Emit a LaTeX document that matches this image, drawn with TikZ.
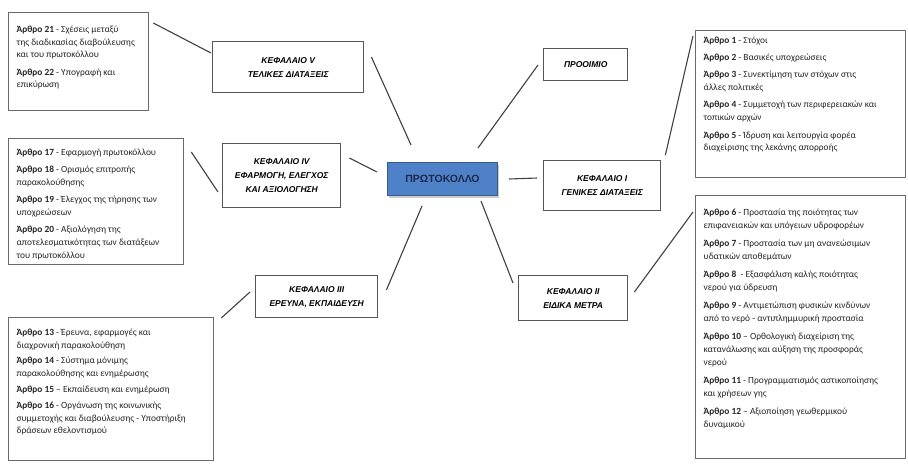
\documentclass[tikz,border=0pt]{standalone}
\usepackage{fontspec}
\setmainfont{Carlito}
\newfontfamily\chapfont{Liberation Sans}
\usetikzlibrary{shadows}
\definecolor{boxline}{HTML}{6A6A6A}
\definecolor{chapline}{HTML}{555555}
\definecolor{connc}{HTML}{404040}
\definecolor{pfill}{HTML}{4F81C8}
\definecolor{pline}{HTML}{385D8A}
\definecolor{ptext}{HTML}{1B2A4A}
\definecolor{txt}{HTML}{262626}
\newcommand{\ar}[1]{\textbf{#1}}
\newcommand{\boxtxt}[4][4.5pt]{\begin{minipage}[t][#3][t]{#2}\raggedright\setlength{\parskip}{#1}\fontsize{9.4}{12.8}\selectfont #4\end{minipage}}
\begin{document}
\begin{tikzpicture}[x=1pt,y=-1pt,
  artbox/.style={draw=boxline, line width=1.3pt, fill=white, anchor=north west, inner sep=0pt, text=txt},
  chapbox/.style={draw=chapline, line width=1.4pt, fill=white, anchor=north west, inner sep=0pt, align=center, font=\chapfont\bfseries\itshape\fontsize{8.5}{14}\selectfont, text=black},
  mainbox/.style={draw=pline, line width=1pt, fill=pfill, anchor=north west, inner sep=0pt, font=\chapfont\bfseries\fontsize{10.5}{12}\selectfont, text=ptext, drop shadow={opacity=0.4, shadow xshift=1pt, shadow yshift=-2pt}},
  conn/.style={draw=connc, line width=1.1pt}
]
\useasboundingbox (0,0) rectangle (908,467);

% article boxes
\node[artbox, minimum width=140pt, minimum height=98pt] (A) at (8,12)
 {\boxtxt{124pt}{72pt}{\ar{Άρθρο 21} - Σχέσεις μεταξύ\\της διαδικασίας διαβούλευσης\\και του πρωτοκόλλου\par
 \ar{Άρθρο 22} - Υπογραφή και\\επικύρωση}};

\node[artbox, minimum width=175pt, minimum height=126pt] (B) at (8,138)
 {\boxtxt{159pt}{106pt}{\ar{Άρθρο 17} - Εφαρμογή πρωτοκόλλου\par
 \ar{Άρθρο 18} - Ορισμός επιτροπής\\παρακολούθησης\par
 \ar{Άρθρο 19} - Έλεγχος της τήρησης των\\υποχρεώσεων\par
 \ar{Άρθρο 20} - Αξιολόγηση της\\αποτελεσματικότητας των διατάξεων\\του πρωτοκόλλου}};

\node[artbox, minimum width=205pt, minimum height=143pt] (C) at (8,317)
 {\boxtxt[3pt]{189pt}{121pt}{\ar{Άρθρο 13} - Έρευνα, εφαρμογές και\\διαχρονική παρακολούθηση\par
 \ar{Άρθρο 14} - Σύστημα μόνιμης\\παρακολούθησης και ενημέρωσης\par
 \ar{Άρθρο 15} – Εκπαίδευση και ενημέρωση\par
 \ar{Άρθρο 16} - Οργάνωση της κοινωνικής\\συμμετοχής και διαβούλευσης - Υποστήριξη\\δράσεων εθελοντισμού}};

\node[artbox, minimum width=210pt, minimum height=147pt] (R1) at (695,30)
 {\boxtxt{194pt}{135pt}{\ar{Άρθρο 1} - Στόχοι\par
 \ar{Άρθρο 2} - Βασικές υποχρεώσεις\par
 \ar{Άρθρο 3} - Συνεκτίμηση των στόχων στις\\άλλες πολιτικές\par
 \ar{Άρθρο 4} - Συμμετοχή των περιφερειακών και\\τοπικών αρχών\par
 \ar{Άρθρο 5} - Ίδρυση και λειτουργία φορέα\\διαχείρισης της λεκάνης απορροής}};

\node[artbox, minimum width=210pt, minimum height=263pt] (R2) at (695,195)
 {\boxtxt[5.5pt]{194pt}{237pt}{\ar{Άρθρο 6} - Προστασία της ποιότητας των\\επιφανειακών και υπόγειων υδροφορέων\par
 \ar{Άρθρο 7} - Προστασία των μη ανανεώσιμων\\υδατικών αποθεμάτων\par
 \ar{Άρθρο 8}\ \ - Εξασφάλιση καλής ποιότητας\\νερού για ύδρευση\par
 \ar{Άρθρο 9} - Αντιμετώπιση φυσικών κινδύνων\\από το νερό - αντιπλημμυρική προστασία\par
 \ar{Άρθρο 10} – Ορθολογική διαχείριση της\\κατανάλωσης και αύξηση της προσφοράς\\νερού\par
 \ar{Άρθρο 11} - Προγραμματισμός αστικοποίησης\\και χρήσεων γης\par
 \ar{Άρθρο 12} – Αξιοποίηση γεωθερμικού\\δυναμικού}};

% chapter boxes
\node[chapbox, minimum width=151pt, minimum height=51pt] (ChV) at (212,41) {ΚΕΦΑΛΑΙΟ V\\ΤΕΛΙΚΕΣ ΔΙΑΤΑΞΕΙΣ};
\node[chapbox, minimum width=118pt, minimum height=64pt] (ChIV) at (222,143) {ΚΕΦΑΛΑΙΟ IV\\ΕΦΑΡΜΟΓΗ, ΕΛΕΓΧΟΣ\\ΚΑΙ ΑΞΙΟΛΟΓΗΣΗ};
\node[chapbox, minimum width=122pt, minimum height=42pt] (ChIII) at (255,275) {ΚΕΦΑΛΑΙΟ III\\ΕΡΕΥΝΑ, ΕΚΠΑΙΔΕΥΣΗ};
\node[chapbox, minimum width=84pt, minimum height=32pt] (Pro) at (543,48) {ΠΡΟΟΙΜΙΟ};
\node[chapbox, minimum width=117pt, minimum height=50pt] (ChI) at (543,160) {ΚΕΦΑΛΑΙΟ I\\ΓΕΝΙΚΕΣ ΔΙΑΤΑΞΕΙΣ};
\node[chapbox, minimum width=109pt, minimum height=45pt] (ChII) at (518,275) {ΚΕΦΑΛΑΙΟ II\\ΕΙΔΙΚΑ ΜΕΤΡΑ};

% centre
\node[mainbox, minimum width=110pt, minimum height=33pt] (P) at (387,162) {ΠΡΩΤΟΚΟΛΛΟ};

% connectors
\draw[conn] ([shift={(4,11)}]A.north east) -- ([shift={(-1,12)}]ChV.north west);
\draw[conn] ([shift={(7,16)}]ChV.north east) -- ([shift={(24,-17)}]P.north west);
\draw[conn] ([shift={(7,14)}]B.north east) -- ([shift={(-4,49)}]ChIV.north west);
\draw[conn] ([shift={(8,15)}]ChIV.north east) -- ([shift={(-10,10)}]P.north west);
\draw[conn] ([shift={(8,15)}]ChIII.north east) -- ([shift={(35,10)}]P.south west);
\draw[conn] ([shift={(7,1)}]C.north east) -- ([shift={(-5,17)}]ChIII.north west);
\draw[conn] ([shift={(-20,-14)}]P.north east) -- ([shift={(-5,17)}]Pro.north west);
\draw[conn] ([shift={(11,0)}]P.east) -- ([shift={(-6,18)}]ChI.north west);
\draw[conn] ([shift={(4,-5)}]ChI.north east) -- ([shift={(-2,6)}]R1.north west);
\draw[conn] ([shift={(-17,5)}]P.south east) -- ([shift={(-5,8)}]ChII.north west);
\draw[conn] ([shift={(6,17)}]ChII.north east) -- ([shift={(-2,17)}]R2.north west);
\end{tikzpicture}
\end{document}
